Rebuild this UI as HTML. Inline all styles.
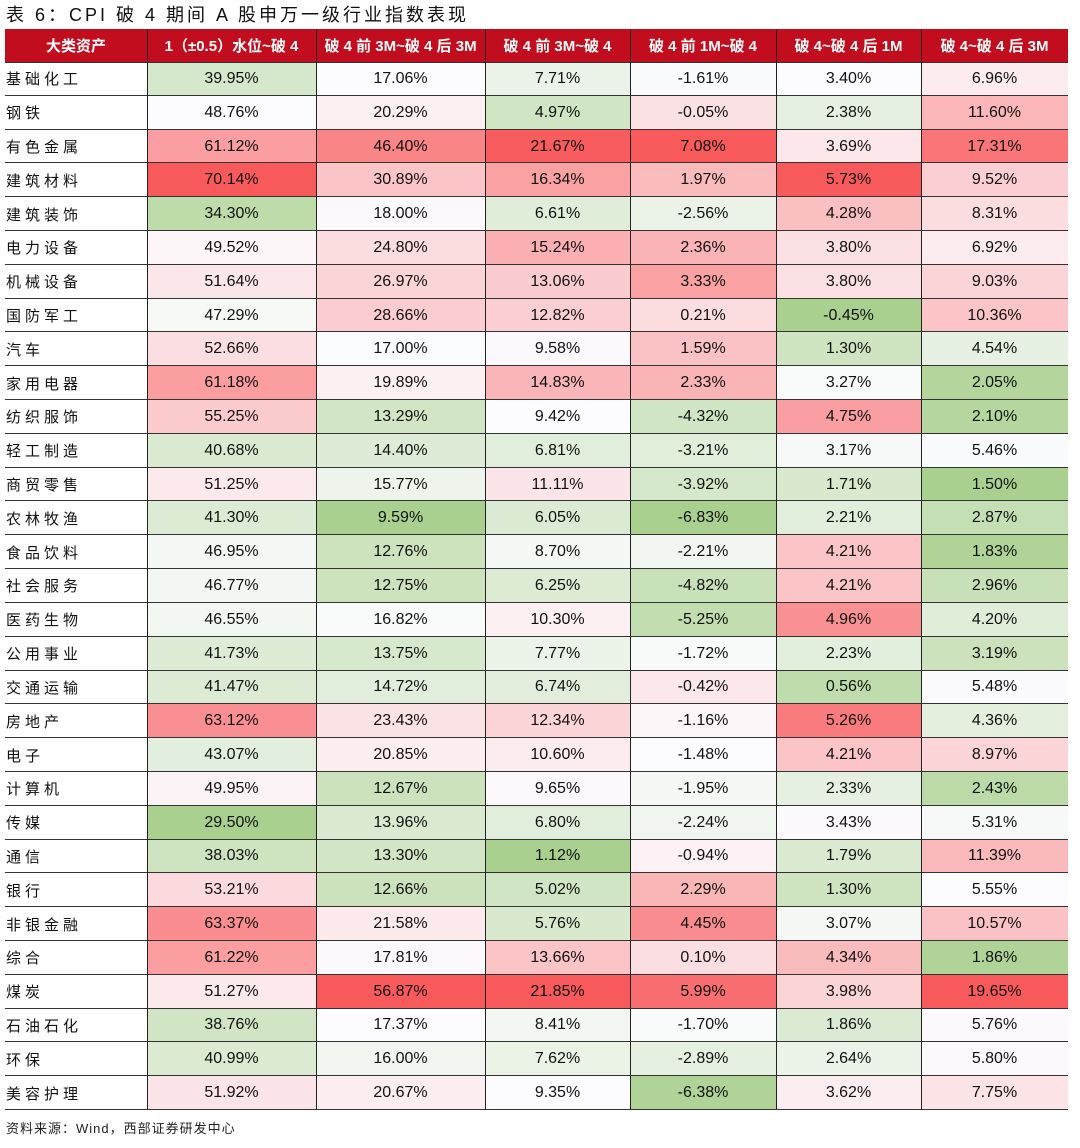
<!DOCTYPE html>
<html><head><meta charset="utf-8">
<style>
body{margin:0;width:1080px;height:1148px;background:#fff;font-family:"Liberation Sans","Noto Sans CJK SC",sans-serif;position:relative;overflow:hidden}
#title{position:absolute;left:6px;top:1px;font-size:18px;color:#111;letter-spacing:3px}
#src{position:absolute;left:6px;top:1118px;font-size:13px;color:#222;letter-spacing:1px}
.c{position:absolute;box-sizing:border-box;display:flex;align-items:center;justify-content:center;font-size:16px;color:#111}
.h{background:#c10d1e;color:#fff;font-weight:bold;font-size:15px}
.n{justify-content:flex-start;padding-left:1px;font-size:15px;letter-spacing:4px}
.hl{position:absolute;height:1px;background:#333}
.vl{position:absolute;width:1px;background:#222}
</style></head><body>
<div id="title">表 6：CPI 破 4 期间 A 股申万一级行业指数表现</div>
<div id="tbl"></div>
<div id="src">资料来源：Wind，西部证券研发中心</div>
<script>
const headers=["大类资产","1（±0.5）水位~破 4","破 4 前 3M~破 4 后 3M","破 4 前 3M~破 4","破 4 前 1M~破 4","破 4~破 4 后 1M","破 4~破 4 后 3M"];
const industries=["基础化工","钢铁","有色金属","建筑材料","建筑装饰","电力设备","机械设备","国防军工","汽车","家用电器","纺织服饰","轻工制造","商贸零售","农林牧渔","食品饮料","社会服务","医药生物","公用事业","交通运输","房地产","电子","计算机","传媒","通信","银行","非银金融","综合","煤炭","石油石化","环保","美容护理"];
const col1=[39.95,48.76,61.12,70.14,34.30,49.52,51.64,47.29,52.66,61.18,55.25,40.68,51.25,41.30,46.95,46.77,46.55,41.73,41.47,63.12,43.07,49.95,29.50,38.03,53.21,63.37,61.22,51.27,38.76,40.99,51.92];
const col2=[17.06,20.29,46.40,30.89,18.00,24.80,26.97,28.66,17.00,19.89,13.29,14.40,15.77,9.59,12.76,12.75,16.82,13.75,14.72,23.43,20.85,12.67,13.96,13.30,12.66,21.58,17.81,56.87,17.37,16.00,20.67];
const col3=[7.71,4.97,21.67,16.34,6.61,15.24,13.06,12.82,9.58,14.83,9.42,6.81,11.11,6.05,8.70,6.25,10.30,7.77,6.74,12.34,10.60,9.65,6.80,1.12,5.02,5.76,13.66,21.85,8.41,7.62,9.35];
const col4=[-1.61,-0.05,7.08,1.97,-2.56,2.36,3.33,0.21,1.59,2.33,-4.32,-3.21,-3.92,-6.83,-2.21,-4.82,-5.25,-1.72,-0.42,-1.16,-1.48,-1.95,-2.24,-0.94,2.29,4.45,0.10,5.99,-1.70,-2.89,-6.38];
const col5=[3.40,2.38,3.69,5.73,4.28,3.80,3.80,-0.45,1.30,3.27,4.75,3.17,1.71,2.21,4.21,4.21,4.96,2.23,0.56,5.26,4.21,2.33,3.43,1.79,1.30,3.07,4.34,3.98,1.86,2.64,3.62];
const col6=[6.96,11.60,17.31,9.52,8.31,6.92,9.03,10.36,4.54,2.05,2.10,5.46,1.50,2.87,1.83,2.96,4.20,3.19,5.48,4.36,8.97,2.43,5.31,11.39,5.55,10.57,1.86,19.65,5.76,5.80,7.75];
const cols=[col1,col2,col3,col4,col5,col6];
const xs=[5,147,316,485,630,776,921,1068];
const top0=29,hh=33,y0=62,rh=(1110-62)/31;
const G=[169,208,142],W=[252,252,255],R=[248,90,92];
function mix(a,b,t){return `rgb(${a.map((v,i)=>Math.round(v+(b[i]-v)*t)).join(',')})`;}
function colorScale(arr){const s=[...arr].sort((a,b)=>a-b);const mn=s[0],mx=s[s.length-1],md=s[Math.floor(s.length/2)];
 return v=>v<=md?mix(G,W,(v-mn)/(md-mn||1)):mix(W,R,(v-md)/(mx-md||1));}
const tbl=document.getElementById('tbl');
headers.forEach((h,i)=>{const d=document.createElement('div');d.className='c h';
 
 
 d.style.cssText=`left:${xs[i]}px;top:${top0}px;width:${xs[i+1]-xs[i]}px;height:${hh}px`;d.textContent=h;tbl.appendChild(d);});
industries.forEach((nm,r)=>{const y=y0+r*rh;
 const d=document.createElement('div');d.className='c n';
 
 
 d.style.cssText=`left:${xs[0]}px;top:${y}px;width:${xs[1]-xs[0]}px;height:${rh}px`;d.textContent=nm;tbl.appendChild(d);
 cols.forEach((arr,c)=>{const sc=colorScale(arr);const e=document.createElement('div');e.className='c';
  
  
  e.style.cssText=`left:${xs[c+1]}px;top:${y}px;width:${xs[c+2]-xs[c+1]}px;height:${rh}px;background:${sc(arr[r])}`;
  e.textContent=arr[r].toFixed(2)+'%';tbl.appendChild(e);});
});
for(let r=0;r<=31;r++){const l=document.createElement('div');l.className='hl';
 
 
 l.style.cssText=`left:5px;width:1063px;top:${Math.round(y0+r*rh)-(r==0?0:1)}px`;tbl.appendChild(l);}
for(let c=1;c<7;c++){const l=document.createElement('div');l.className='vl';
 
 
 l.style.cssText=`left:${xs[c]}px;top:${top0}px;height:${1110-top0}px`;tbl.appendChild(l);}
</script>
</body></html>
